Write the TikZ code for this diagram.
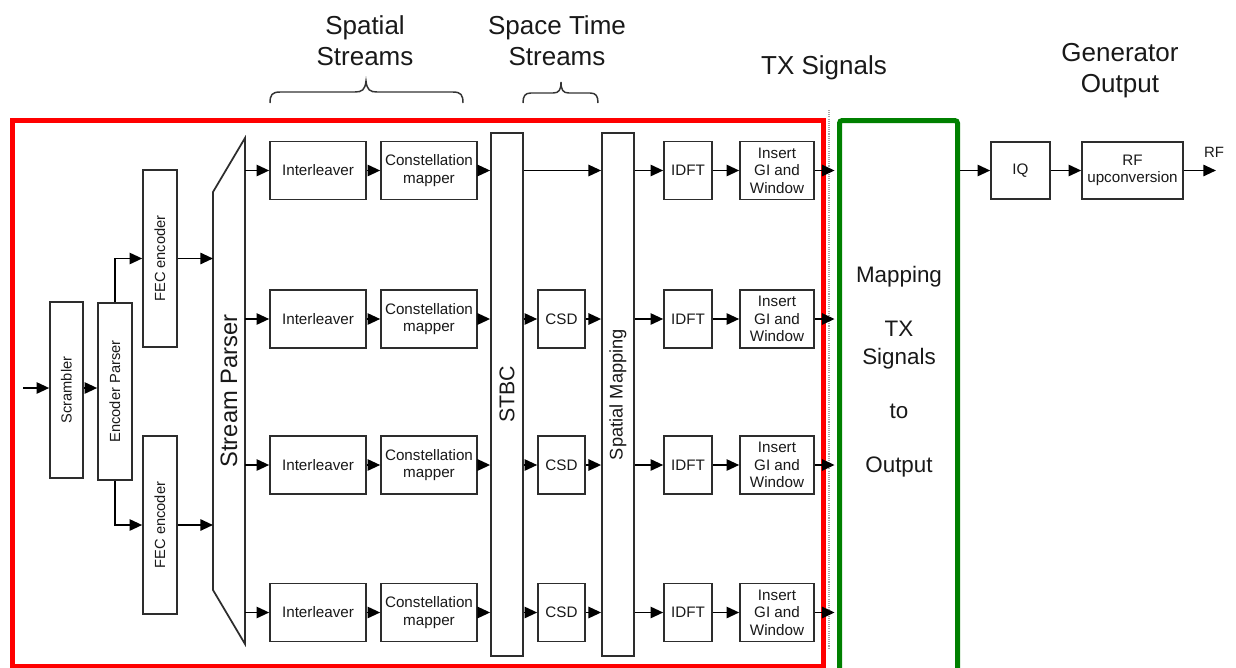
\documentclass[tikz,border=0pt]{standalone}
\usepackage{fontspec}
\setmainfont{Liberation Sans}
\usetikzlibrary{arrows.meta}
\definecolor{boxc}{RGB}{45,45,45}
\definecolor{gfr}{RGB}{0,128,0}
\definecolor{rfr}{RGB}{255,0,0}
\begin{document}
\begin{tikzpicture}[x=0.75pt,y=-0.75pt,
  every node/.style={inner sep=0pt, text=black!90},
  box/.style={draw=boxc, line width=1.2pt, fill=white, align=center, minimum height=43.5pt, font=\fontsize{11.4}{13.2}\selectfont},
  wbox/.style={box, minimum width=72pt},
  bar/.style={draw=boxc, line width=1.3pt, fill=white},
  rottext/.style={rotate=90, font=\fontsize{11}{13}\selectfont},
  arr/.style={draw=black, line width=1.4pt, -{Triangle[length=9.5pt,width=8.5pt]}},
  hdr/.style={font=\fontsize{19.5}{23}\selectfont, anchor=base},
  gtext/.style={font=\fontsize{16.8}{20}\selectfont, anchor=base},
  bracestyle/.style={draw=black!80, line width=1.1pt}
]
\useasboundingbox (0,0) rectangle (1236,668);
\clip (0,0) rectangle (1236,668);
\fill[white] (0,0) rectangle (1236,668);

% headers
\node[hdr] (h1a) at (365,34) {Spatial};
\node[hdr] (h1b) at (365,65) {Streams};
\node[hdr] (h2a) at (557,34) {Space Time};
\node[hdr] (h2b) at (557,65) {Streams};
\node[hdr] (h3) at (824,74) {TX Signals};
\node[hdr] (h4a) at (1120,61) {Generator};
\node[hdr] (h4b) at (1120,92) {Output};

% braces
\draw[bracestyle] (270,103) .. controls (270,95) and (272,92) .. (280,92) -- (355,92)
  .. controls (362,92) and (365,90) .. (366,81) .. controls (367,90) and (370,92) .. (377,92)
  -- (453,92) .. controls (461,92) and (463,95) .. (463,103);
\draw[bracestyle] (523,103) .. controls (523,96) and (525,93) .. (531,93) -- (553,93)
  .. controls (559,93) and (561,90) .. (561,82) .. controls (561,90) and (563,93) .. (569,93)
  -- (590,93) .. controls (596,93) and (598,96) .. (598,103);

% left chain
\node[box, minimum width=24.75pt, minimum height=132pt] (scr) at (66.5,390) {};
\node[rottext] (scrT) at (scr) {Scrambler};
\node[box, minimum width=25.5pt, minimum height=132.75pt] (ep) at (115,391.5) {};
\node[rottext] (epT) at (ep) {Encoder Parser};
\node[box, minimum width=25.5pt, minimum height=132.75pt] (fec1) at (160,258.5) {};
\node[rottext] (fec1T) at (fec1) {FEC encoder};
\node[box, minimum width=25.5pt, minimum height=133.5pt] (fec2) at (160,525) {};
\node[rottext] (fec2T) at (fec2) {FEC encoder};

% stream parser
\draw[bar] (213,192) -- (245,138) -- (245,644) -- (213,590) -- cycle;
\coordinate (spL) at (213,390);
\coordinate (spR) at (245,390);
\node[rotate=90, font=\fontsize{17.8}{20}\selectfont] (spT) at (229,391) {Stream Parser};

% tall bars
\node[bar, minimum width=24pt, minimum height=392.25pt] (stbc) at (507,394.5) {};
\node[rotate=90, font=\fontsize{16}{18}\selectfont] (stbcT) at (stbc) {STBC};
\node[bar, minimum width=24pt, minimum height=392.25pt] (sm) at (618,394.5) {};
\node[rotate=90, font=\fontsize{13.7}{16}\selectfont] (smT) at (sm) {Spatial Mapping};

% rows
\foreach \i/\y in {1/170.5,2/319,3/465,4/612.5}{
  \node[wbox] (il\i) at (318,\y) {Interleaver};
  \node[wbox] (cm\i) at (429,\y) {Constellation\\mapper};
  \node[box, minimum width=36pt] (idft\i) at (688,\y) {IDFT};
  \node[box, minimum width=55.5pt] (ins\i) at (777,\y) {Insert\\GI and\\Window};
}
\foreach \i/\y in {2/319,3/465,4/612.5}{
  \node[box, minimum width=35.25pt] (csd\i) at (561.5,\y) {CSD};
}

% green mapping box
\node[draw=gfr, line width=3.75pt, rounded corners=2pt, minimum width=88.5pt, minimum height=434.6pt] (map) at (898.5,410.25) {};
\node[gtext] (g1) at (899,282) {Mapping};
\node[gtext] (g2) at (899,336) {TX};
\node[gtext] (g3) at (899,364) {Signals};
\node[gtext] (g4) at (899,418) {to};
\node[gtext] (g5) at (899,472) {Output};

% right chain
\node[box, minimum width=44.25pt, minimum height=42.75pt] (iq) at (1020.5,170.5) {IQ};
\node[box, minimum width=75.75pt, minimum height=42.75pt] (rfu) at (1132.5,170.5) {RF\\upconversion};
\coordinate (rfout) at (1216,170.5);
\node[font=\fontsize{11.2}{13}\selectfont] (rfl) at (1214,152) {RF};

% red frame (drawn under the arrows that leave it)
\draw[rfr, line width=3.75pt] (12.5,120) rectangle (823,666);
\draw[black!35, line width=0.8pt, dash pattern=on 0.8pt off 0.8pt] (829,110) -- (829,648);

% connectors left
\coordinate (inp) at (23,388);
\draw[arr] (inp) -- (inp -| scr.west);
\draw[arr] (scr.east |- inp) -- (ep.west |- inp);
\draw[arr] (ep.north) |- (fec1.west);
\draw[arr] (ep.south) |- (fec2.west);
\draw[arr] (fec1.east) -- (fec1.east -| spL);
\draw[arr] (fec2.east) -- (fec2.east -| spL);

\foreach \i in {1,2,3,4}{
  \draw[arr] (il\i.west -| spR) -- (il\i.west);
  \draw[arr] (il\i) -- (cm\i);
  \draw[arr] (cm\i.east) -- (cm\i.east -| stbc.west);
  \draw[arr] (idft\i.west -| sm.east) -- (idft\i.west);
  \draw[arr] (idft\i) -- (ins\i);
  \draw[arr, shorten >=1.8pt] (ins\i.east) -- (ins\i.east -| map.west);
}
\draw[arr] (cm1.east -| stbc.east) -- (cm1.east -| sm.west);
\foreach \i in {2,3,4}{
  \draw[arr] (csd\i.west -| stbc.east) -- (csd\i.west);
  \draw[arr] (csd\i.east) -- (csd\i.east -| sm.west);
}

% connectors right
\draw[arr] (iq.west -| map.east) -- (iq.west);
\draw[arr] (iq) -- (rfu);
\draw[arr] (rfu.east) -- (rfout);
\end{tikzpicture}
\end{document}
